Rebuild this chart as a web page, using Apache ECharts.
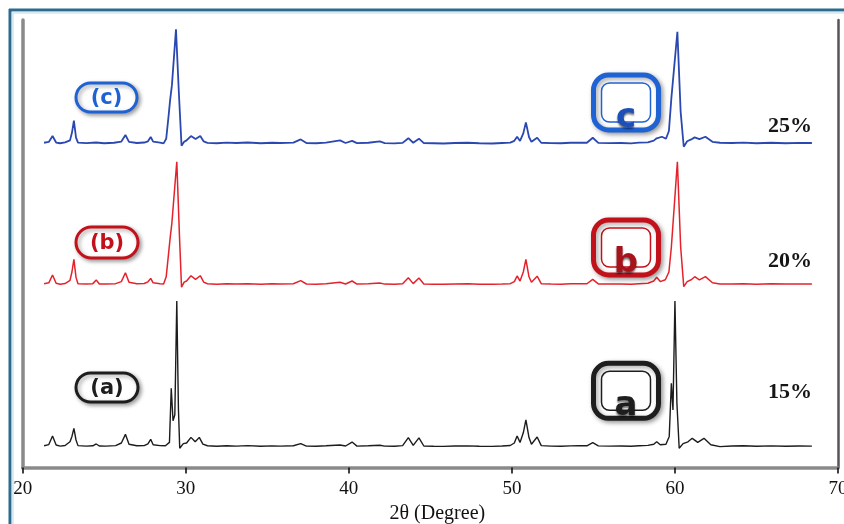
<!DOCTYPE html>
<html>
<head>
<meta charset="utf-8">
<script src="https://cdn.jsdelivr.net/npm/echarts@6/dist/echarts.min.js"></script>
<style>
html,body{margin:0;padding:0;background:#ffffff;}
#chart{width:844px;height:524px;}
</style>
</head>
<body>
<div id="chart"></div>
<script>
// ---------------- data ----------------
const xMin = 20, xMax = 70, xStep = 10;
const xAxisTitle = '2θ (Degree)';
const sampleTags = ['(a)', '(b)', '(c)'];
const boxLetters = ['a', 'b', 'c'];
const dopingLevels = ['15%', '20%', '25%'];

// [2θ (deg), intensity (a.u.)]
const pattern15 = [
[21.31,4.2],[21.6,5.2],[21.83,12.3],[22.05,4.8],[22.3,3.9],[22.6,4.4],[22.9,7.5],[23.02,12.0],[23.14,18.7],[23.27,9.0],[23.39,4.3],[23.9,3.9],[24.3,4.2],[24.51,5.7],[24.7,4.0],[25.1,3.9],[25.7,4.3],[26.05,6.5],[26.3,13.7],[26.52,5.5],[27.0,4.2],[27.45,4.3],[27.68,5.8],[27.85,9.6],[28.0,5.0],[28.42,4.3],[28.75,4.2],[29.0,7.0],[29.11,52.1],[29.22,25.0],[29.33,30.0],[29.45,124.8],[29.55,35.0],[29.63,2.1],[29.85,6.0],[30.05,6.5],[30.32,11.2],[30.58,7.5],[30.83,11.2],[31.05,5.5],[31.33,4.2],[31.9,3.8],[32.5,4.2],[33.1,3.9],[33.8,4.3],[34.6,3.8],[35.3,4.1],[35.8,3.9],[36.6,4.2],[37.05,6.0],[37.4,3.9],[38.0,3.8],[38.6,4.2],[39.46,4.8],[39.8,4.0],[40.2,7.3],[40.5,3.9],[41.2,4.2],[41.9,4.6],[42.2,3.9],[42.8,3.8],[43.3,4.3],[43.65,11.0],[43.95,4.5],[44.3,10.8],[44.6,4.0],[45.2,3.8],[45.8,3.7],[46.5,4.0],[47.3,4.1],[48.0,3.8],[48.8,3.7],[49.4,4.0],[49.9,4.4],[50.15,6.5],[50.32,12.3],[50.5,7.0],[50.7,15.0],[50.86,25.7],[51.05,11.0],[51.2,5.5],[51.55,11.5],[51.8,4.3],[52.4,3.9],[53.0,3.8],[53.6,4.1],[54.1,4.3],[54.6,4.2],[54.96,6.8],[55.3,4.1],[56.0,3.9],[56.7,4.0],[57.3,3.8],[57.8,4.2],[58.34,4.5],[58.7,5.5],[58.88,7.6],[59.1,5.0],[59.45,5.5],[59.65,12.0],[59.78,56.2],[59.88,34.0],[60.0,124.8],[60.12,40.0],[60.26,2.1],[60.5,6.0],[60.8,7.5],[61.06,10.4],[61.4,7.0],[61.78,10.4],[62.2,5.0],[62.76,3.5],[63.5,4.0],[64.2,4.2],[65.0,3.8],[65.9,4.1],[66.8,3.8],[67.6,4.0],[68.4,3.9]
];
const pattern20 = [
[21.31,4.2],[21.6,5.0],[21.83,11.5],[22.05,4.6],[22.3,3.8],[22.6,4.4],[22.9,7.0],[23.02,14.0],[23.14,24.6],[23.27,9.5],[23.39,4.2],[23.9,3.9],[24.3,4.3],[24.51,7.3],[24.7,4.0],[25.1,3.9],[25.7,4.3],[26.05,6.0],[26.3,13.4],[26.52,5.5],[27.0,4.2],[27.45,4.4],[27.68,5.8],[27.85,8.7],[28.0,5.0],[28.42,4.3],[28.64,4.0],[28.8,10.0],[28.95,30.0],[29.04,42.0],[29.15,55.0],[29.45,105.9],[29.62,42.0],[29.74,1.3],[29.9,5.5],[30.05,6.5],[30.32,10.9],[30.6,7.8],[30.89,10.9],[31.1,5.6],[31.33,4.2],[31.9,3.8],[32.5,4.3],[33.1,4.0],[33.8,4.2],[34.6,3.8],[35.3,4.3],[35.8,4.0],[36.6,4.2],[37.05,6.8],[37.4,4.0],[38.0,3.8],[38.6,4.2],[39.46,5.5],[39.8,4.0],[40.2,6.5],[40.5,3.9],[41.2,4.2],[41.9,4.8],[42.2,3.9],[42.8,3.8],[43.3,4.2],[43.65,9.2],[43.95,4.3],[44.3,9.0],[44.6,4.0],[45.2,3.8],[45.8,3.7],[46.5,4.0],[47.3,4.2],[48.0,3.8],[48.8,3.7],[49.4,4.0],[49.9,4.3],[50.15,6.0],[50.32,10.7],[50.5,6.5],[50.7,14.0],[50.86,24.5],[51.05,10.0],[51.2,5.5],[51.55,10.5],[51.8,4.3],[52.4,3.9],[53.0,3.8],[53.6,4.2],[54.1,4.3],[54.6,4.2],[54.96,7.9],[55.3,4.1],[56.0,3.9],[56.7,4.0],[57.3,3.8],[57.8,4.3],[58.34,4.6],[58.7,6.5],[58.88,9.6],[59.1,6.0],[59.41,7.5],[59.63,14.0],[59.78,34.6],[60.15,105.9],[60.35,35.0],[60.54,1.8],[60.75,6.0],[61.0,7.5],[61.21,10.1],[61.5,7.5],[61.87,10.1],[62.3,5.0],[62.76,4.0],[63.5,4.1],[64.2,4.3],[65.0,3.8],[65.9,4.2],[66.8,3.9],[67.6,4.1],[68.4,4.0]
];
const pattern25 = [
[21.31,4.2],[21.6,4.9],[21.83,9.8],[22.05,4.4],[22.3,3.8],[22.6,4.5],[22.9,6.2],[23.02,12.5],[23.14,22.6],[23.27,8.5],[23.39,4.3],[23.9,3.9],[24.5,4.4],[25.0,3.8],[25.6,4.2],[26.05,5.2],[26.3,10.7],[26.52,5.0],[27.0,4.0],[27.45,4.4],[27.68,5.4],[27.85,9.0],[28.0,5.1],[28.42,4.4],[28.64,3.7],[28.8,7.5],[28.95,27.0],[29.04,39.8],[29.15,52.0],[29.4,98.7],[29.58,45.0],[29.74,1.8],[29.9,5.0],[30.05,6.2],[30.32,9.8],[30.6,7.3],[30.89,9.8],[31.1,5.3],[31.33,4.1],[31.9,3.8],[32.5,4.3],[33.1,4.0],[33.8,4.4],[34.6,3.8],[35.3,4.2],[35.8,4.0],[36.6,4.3],[37.05,7.0],[37.4,4.0],[38.0,3.8],[38.6,4.3],[39.46,6.2],[39.8,4.0],[40.2,5.8],[40.5,3.9],[41.2,4.2],[41.9,5.3],[42.2,3.9],[42.8,3.7],[43.3,4.1],[43.65,8.0],[43.95,4.2],[44.3,7.6],[44.6,3.9],[45.2,3.8],[45.8,3.6],[46.5,4.0],[47.3,4.2],[48.0,3.8],[48.8,3.6],[49.4,4.0],[49.9,4.3],[50.15,5.8],[50.32,9.2],[50.5,5.7],[50.7,12.0],[50.86,21.2],[51.05,9.0],[51.2,5.0],[51.55,8.4],[51.8,4.2],[52.4,3.9],[53.0,3.8],[53.6,4.2],[54.1,4.3],[54.6,4.2],[54.96,8.4],[55.3,4.1],[56.0,3.9],[56.7,4.0],[57.3,3.7],[57.8,4.3],[58.34,4.6],[58.7,6.0],[58.88,7.9],[59.2,9.2],[59.45,7.5],[59.63,14.0],[59.78,41.2],[60.15,96.7],[60.35,30.0],[60.54,0.9],[60.75,5.5],[61.0,7.0],[61.21,8.7],[61.5,7.2],[61.87,9.2],[62.3,5.0],[62.76,4.2],[63.5,4.0],[64.2,4.3],[65.0,3.8],[65.9,4.2],[66.8,3.8],[67.6,4.1],[68.4,4.0]
];

// ---------------- layout & style ----------------
const PL = 22.7, PR = 6, PT = 20, PB = 56.5;
const traceColors = ['#1c1c1c', '#e5222b', '#2a48b0'];
const tagColors   = ['#1e1e1e', '#c3111b', '#1f62d4'];
const letterColors= ['#1e1e1e', '#a8121b', '#1c4fb8'];
const panels = [ // a, b, c  (grid placement and y-range per pattern)
  {top: 270.8, height: 180, yMax: 150, width: 1.4},
  {top: 132.8, height: 156, yMax: 130, width: 1.5},
  {top: 9.8,   height: 138, yMax: 115, width: 1.8}
];
const patterns = [pattern15, pattern20, pattern25];

const grids = [{left: PL, right: PR, top: PT, bottom: PB, containLabel: false, outerBoundsMode: 'none'}];
const xAxes = [
  {gridIndex: 0, type: 'value', position: 'bottom', min: xMin, max: xMax, interval: xStep,
   axisLine: {show: true, lineStyle: {color: '#111', width: 2.2}},
   axisTick: {show: true, length: 6, inside: false, lineStyle: {color: '#111', width: 1.6}},
   axisLabel: {show: true, margin: 12, color: '#111', fontFamily: 'Liberation Serif', fontSize: 19},
   splitLine: {show: false},
   name: xAxisTitle, nameLocation: 'middle', nameGap: 33,
   nameTextStyle: {fontFamily: 'Liberation Serif', fontSize: 20, color: '#111', padding: [0, 0, 0, 14]}},
  {gridIndex: 0, type: 'value', position: 'top', min: xMin, max: xMax,
   axisLine: {show: true, lineStyle: {color: '#8a8a8a', width: 3.5}},
   axisTick: {show: false}, axisLabel: {show: false}, splitLine: {show: false}}
];
const yAxes = [
  {gridIndex: 0, type: 'value', position: 'left', min: 0, max: 1,
   axisLine: {show: true, lineStyle: {color: '#8a8a8a', width: 3.5}},
   axisTick: {show: false}, axisLabel: {show: false}, splitLine: {show: false}},
  {gridIndex: 0, type: 'value', position: 'right', min: 0, max: 1,
   axisLine: {show: true, lineStyle: {color: '#555', width: 2.5}},
   axisTick: {show: false}, axisLabel: {show: false}, splitLine: {show: false}}
];
const series = [];
panels.forEach((p, i) => {
  grids.push({left: PL, right: PR, top: p.top, height: p.height, containLabel: false, outerBoundsMode: 'none'});
  xAxes.push({gridIndex: i + 1, type: 'value', min: xMin, max: xMax, show: false});
  yAxes.push({gridIndex: i + 1, type: 'value', min: 0, max: p.yMax, show: false});
  series.push({
    name: dopingLevels[i], type: 'line', xAxisIndex: i + 2, yAxisIndex: i + 2,
    data: patterns[i], showSymbol: false, symbol: 'none', smooth: false, clip: false,
    lineStyle: {color: traceColors[i], width: p.width}, itemStyle: {color: traceColors[i]},
    silent: true, z: 3
  });
});

// annotations (positions are layout)
const tagBoxes = [{x: 76, y: 373, w: 62, h: 29}, {x: 76, y: 227, w: 62, h: 31}, {x: 76, y: 83, w: 61, h: 29}];
const letterBoxes = [{x: 593.5, y: 363.3}, {x: 593.5, y: 220}, {x: 593.5, y: 75}];
const pctY = [392.7, 261.7, 126.5];

const graphics = [
  {type: 'line', shape: {x1: 10, y1: 524, x2: 10, y2: 9}, style: {stroke: '#2c6b8b', lineWidth: 3}, z: 20},
  {type: 'line', shape: {x1: 9, y1: 10, x2: 844, y2: 10}, style: {stroke: '#2c6b8b', lineWidth: 3}, z: 20},
  {type: 'line', shape: {x1: 12.8, y1: 524, x2: 12.8, y2: 12}, style: {stroke: '#d6e8f1', lineWidth: 2}, z: 20},
  {type: 'line', shape: {x1: 12, y1: 12.8, x2: 844, y2: 12.8}, style: {stroke: '#d6e8f1', lineWidth: 2}, z: 20}
];
tagBoxes.forEach((b, i) => {
  graphics.push({type: 'rect', z: 10, shape: {x: b.x, y: b.y, width: b.w, height: b.h, r: b.h / 2},
    style: {fill: '#fff', stroke: tagColors[i], lineWidth: 3, shadowBlur: 4, shadowColor: 'rgba(0,0,0,0.35)', shadowOffsetX: 2, shadowOffsetY: 2}});
  graphics.push({type: 'text', z: 11, x: b.x + b.w / 2, y: b.y + b.h / 2 + 1,
    style: {text: sampleTags[i], font: 'bold 21px "DejaVu Sans"', fill: tagColors[i],
      align: 'center', verticalAlign: 'middle', textAlign: 'center', textVerticalAlign: 'middle'}});
});
letterBoxes.forEach((b, i) => {
  const w = 65, h = 55;
  graphics.push({type: 'rect', z: 10, shape: {x: b.x, y: b.y, width: w, height: h, r: 15},
    style: {fill: '#fff', stroke: tagColors[i], lineWidth: 5, shadowBlur: 5, shadowColor: 'rgba(0,0,0,0.35)', shadowOffsetX: 2, shadowOffsetY: 2}});
  graphics.push({type: 'rect', z: 11, shape: {x: b.x + 8, y: b.y + 8, width: w - 16, height: h - 16, r: 8},
    style: {fill: 'none', stroke: tagColors[i], lineWidth: 1.5}});
  graphics.push({type: 'text', z: 12, x: b.x + w / 2, y: b.y + h + 5,
    style: {text: boxLetters[i], font: 'bold 34px "DejaVu Sans"', fill: letterColors[i],
      align: 'center', verticalAlign: 'bottom', textAlign: 'center', textVerticalAlign: 'bottom',
      textShadowBlur: 2, textShadowColor: 'rgba(0,0,0,0.55)', textShadowOffsetY: 2}});
});
pctY.forEach((y, i) => {
  graphics.push({type: 'text', z: 12, x: 790, y: y,
    style: {text: dopingLevels[i], font: 'bold 22px "Liberation Serif"', fill: '#161616',
      align: 'center', verticalAlign: 'middle', textAlign: 'center', textVerticalAlign: 'middle'}});
});

const chart = echarts.init(document.getElementById('chart'), null, {renderer: 'canvas'});
chart.setOption({
  backgroundColor: '#ffffff',
  animation: false,
  grid: grids,
  xAxis: xAxes,
  yAxis: yAxes,
  series: series,
  graphic: {elements: graphics}
});
</script>
</body>
</html>
